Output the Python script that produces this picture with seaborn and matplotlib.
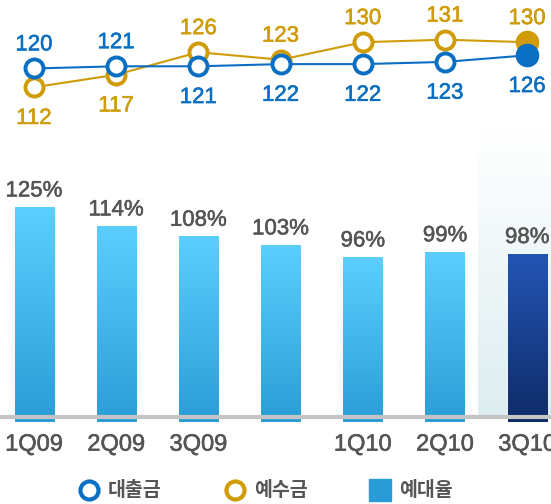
import numpy as np
import matplotlib
matplotlib.use("Agg")
import matplotlib.pyplot as plt
import matplotlib.patheffects as pe
from matplotlib.colors import LinearSegmentedColormap
from matplotlib.lines import Line2D
import seaborn as sns

# data
quarters = ["1Q09", "2Q09", "3Q09", "4Q09", "1Q10", "2Q10", "3Q10"]
tick_labels = ["1Q09", "2Q09", "3Q09", "", "1Q10", "2Q10", "3Q10"]
loans = [120, 121, 121, 122, 122, 123, 126]
deposits = [112, 117, 126, 123, 130, 131, 130]
ratio = [125, 114, 108, 103, 96, 99, 98]
legend_labels = ["대출금", "예수금", "예대율"]

BLUE = "#0a6fc2"
GOLD = "#cf9c08"
GREY = "#555555"

sns.set_theme(style="white")
plt.rcParams["font.family"] = ["Liberation Sans", "Noto Sans CJK KR"]

W, H = 551, 504
fig = plt.figure(figsize=(W / 100, H / 100), dpi=100)


def px_box(left, top, right, bottom):
    '''Turns a pixel box (from top-left) into figure coordinates.'''
    return [left / W, 1 - bottom / H, (right - left) / W, (bottom - top) / H]


def heavy(color):
    '''Thin stroke so the regular face looks as heavy as the reference.'''
    return [pe.withStroke(linewidth=0.4, foreground=color)]


xlim = (-0.414, 6.29)
n = len(quarters)
grad = np.linspace(0, 1, 256).reshape(-1, 1)

# ---- bars (예대율) ----
ax_bar = fig.add_axes(px_box(0, 130, W, 417))
ax_bar.set_facecolor("none")
sns.barplot(x=quarters, y=ratio, ax=ax_bar, width=0.475,
            color="#3fb5ea", saturation=1)
ylim = (3.19, 169.7)

light = LinearSegmentedColormap.from_list("light", ["#2b9dd6", "#5ccfff"])
dark = LinearSegmentedColormap.from_list("dark", ["#0f2b67", "#2355b5"])
for i, patch in enumerate(ax_bar.patches):
    x0, w, h = patch.get_x(), patch.get_width(), patch.get_height()
    cmap = dark if i == n - 1 else light
    im = ax_bar.imshow(grad, extent=[x0, x0 + w, 0, h], origin="lower",
                       aspect="auto", cmap=cmap, zorder=2)
    im.set_clip_path(patch)

# highlight behind the latest quarter
hl = LinearSegmentedColormap.from_list("hl", ["#ddedf0", "#ffffff"])
ax_bar.imshow(grad, extent=[n - 1.6, xlim[1], ylim[0], ylim[1]],
              origin="lower", aspect="auto", cmap=hl, zorder=0)
ax_bar.set_xlim(xlim)
ax_bar.set_ylim(ylim)

for t in ax_bar.bar_label(ax_bar.containers[0],
                          labels=[f"{v}%" for v in ratio],
                          padding=4, fontsize=16, color=GREY, zorder=5):
    t.set_path_effects(heavy(GREY))

sns.despine(ax=ax_bar, left=True)
ax_bar.spines["bottom"].set_color("#c4c4c4")
ax_bar.spines["bottom"].set_linewidth(3)
ax_bar.set_yticks([])
ax_bar.set_xticks(np.arange(n), tick_labels)
ax_bar.tick_params(axis="x", length=0, pad=12, labelsize=17,
                   labelcolor=GREY)
for t in ax_bar.get_xticklabels():
    t.set_path_effects(heavy(GREY))
ax_bar.set_xlabel("")
ax_bar.set_ylabel("")

# ---- lines (예수금 / 대출금) ----
ax_dep = fig.add_axes(px_box(0, 0, W, 130))
ax_dep.set_facecolor("none")
ax_loan = ax_dep.twinx()

x = np.arange(n)
for ax, vals, col, lim in [(ax_dep, deposits, GOLD, (94.91, 146.87)),
                           (ax_loan, loans, BLUE, (92.04, 151.14))]:
    sns.lineplot(x=x, y=vals, ax=ax, color=col, lw=1.5, marker="o",
                 markersize=13, markerfacecolor="white",
                 markeredgecolor=col, markeredgewidth=2.8)
    ax.plot(x[-1], vals[-1], "o", ms=16, color=col)
    ax.set_xlim(xlim)
    ax.set_ylim(lim)
    ax.axis("off")

for i in x:
    up = loans[i] > deposits[i]
    t = ax_loan.annotate(str(loans[i]), (i, loans[i]),
                         xytext=(0, 17 if up else -22.5),
                         textcoords="offset points", ha="center",
                         va="center", fontsize=16, color=BLUE)
    t.set_path_effects(heavy(BLUE))
    up = deposits[i] >= loans[i]
    t = ax_dep.annotate(str(deposits[i]), (i, deposits[i]),
                        xytext=(0, 17 if up else -22.5),
                        textcoords="offset points", ha="center",
                        va="center", fontsize=16, color=GOLD)
    t.set_path_effects(heavy(GOLD))

# ---- legend ----
handles = [
    Line2D([], [], ls="none", marker="o", ms=13, mfc="white", mec=BLUE, mew=3),
    Line2D([], [], ls="none", marker="o", ms=13, mfc="white", mec=GOLD, mew=3),
    Line2D([], [], ls="none", marker="s", ms=16, color="#2b9bd6"),
]
fig.legend(handles, legend_labels, loc="center",
           bbox_to_anchor=(265.5 / W, 1 - 491 / H), ncol=3, frameon=False,
           handlelength=1.13, handletextpad=0.41, columnspacing=3.2,
           borderpad=0, labelcolor=GREY,
           prop={"family": "Noto Sans CJK KR", "weight": "bold", "size": 14})

fig.savefig("out.png", dpi=100)
